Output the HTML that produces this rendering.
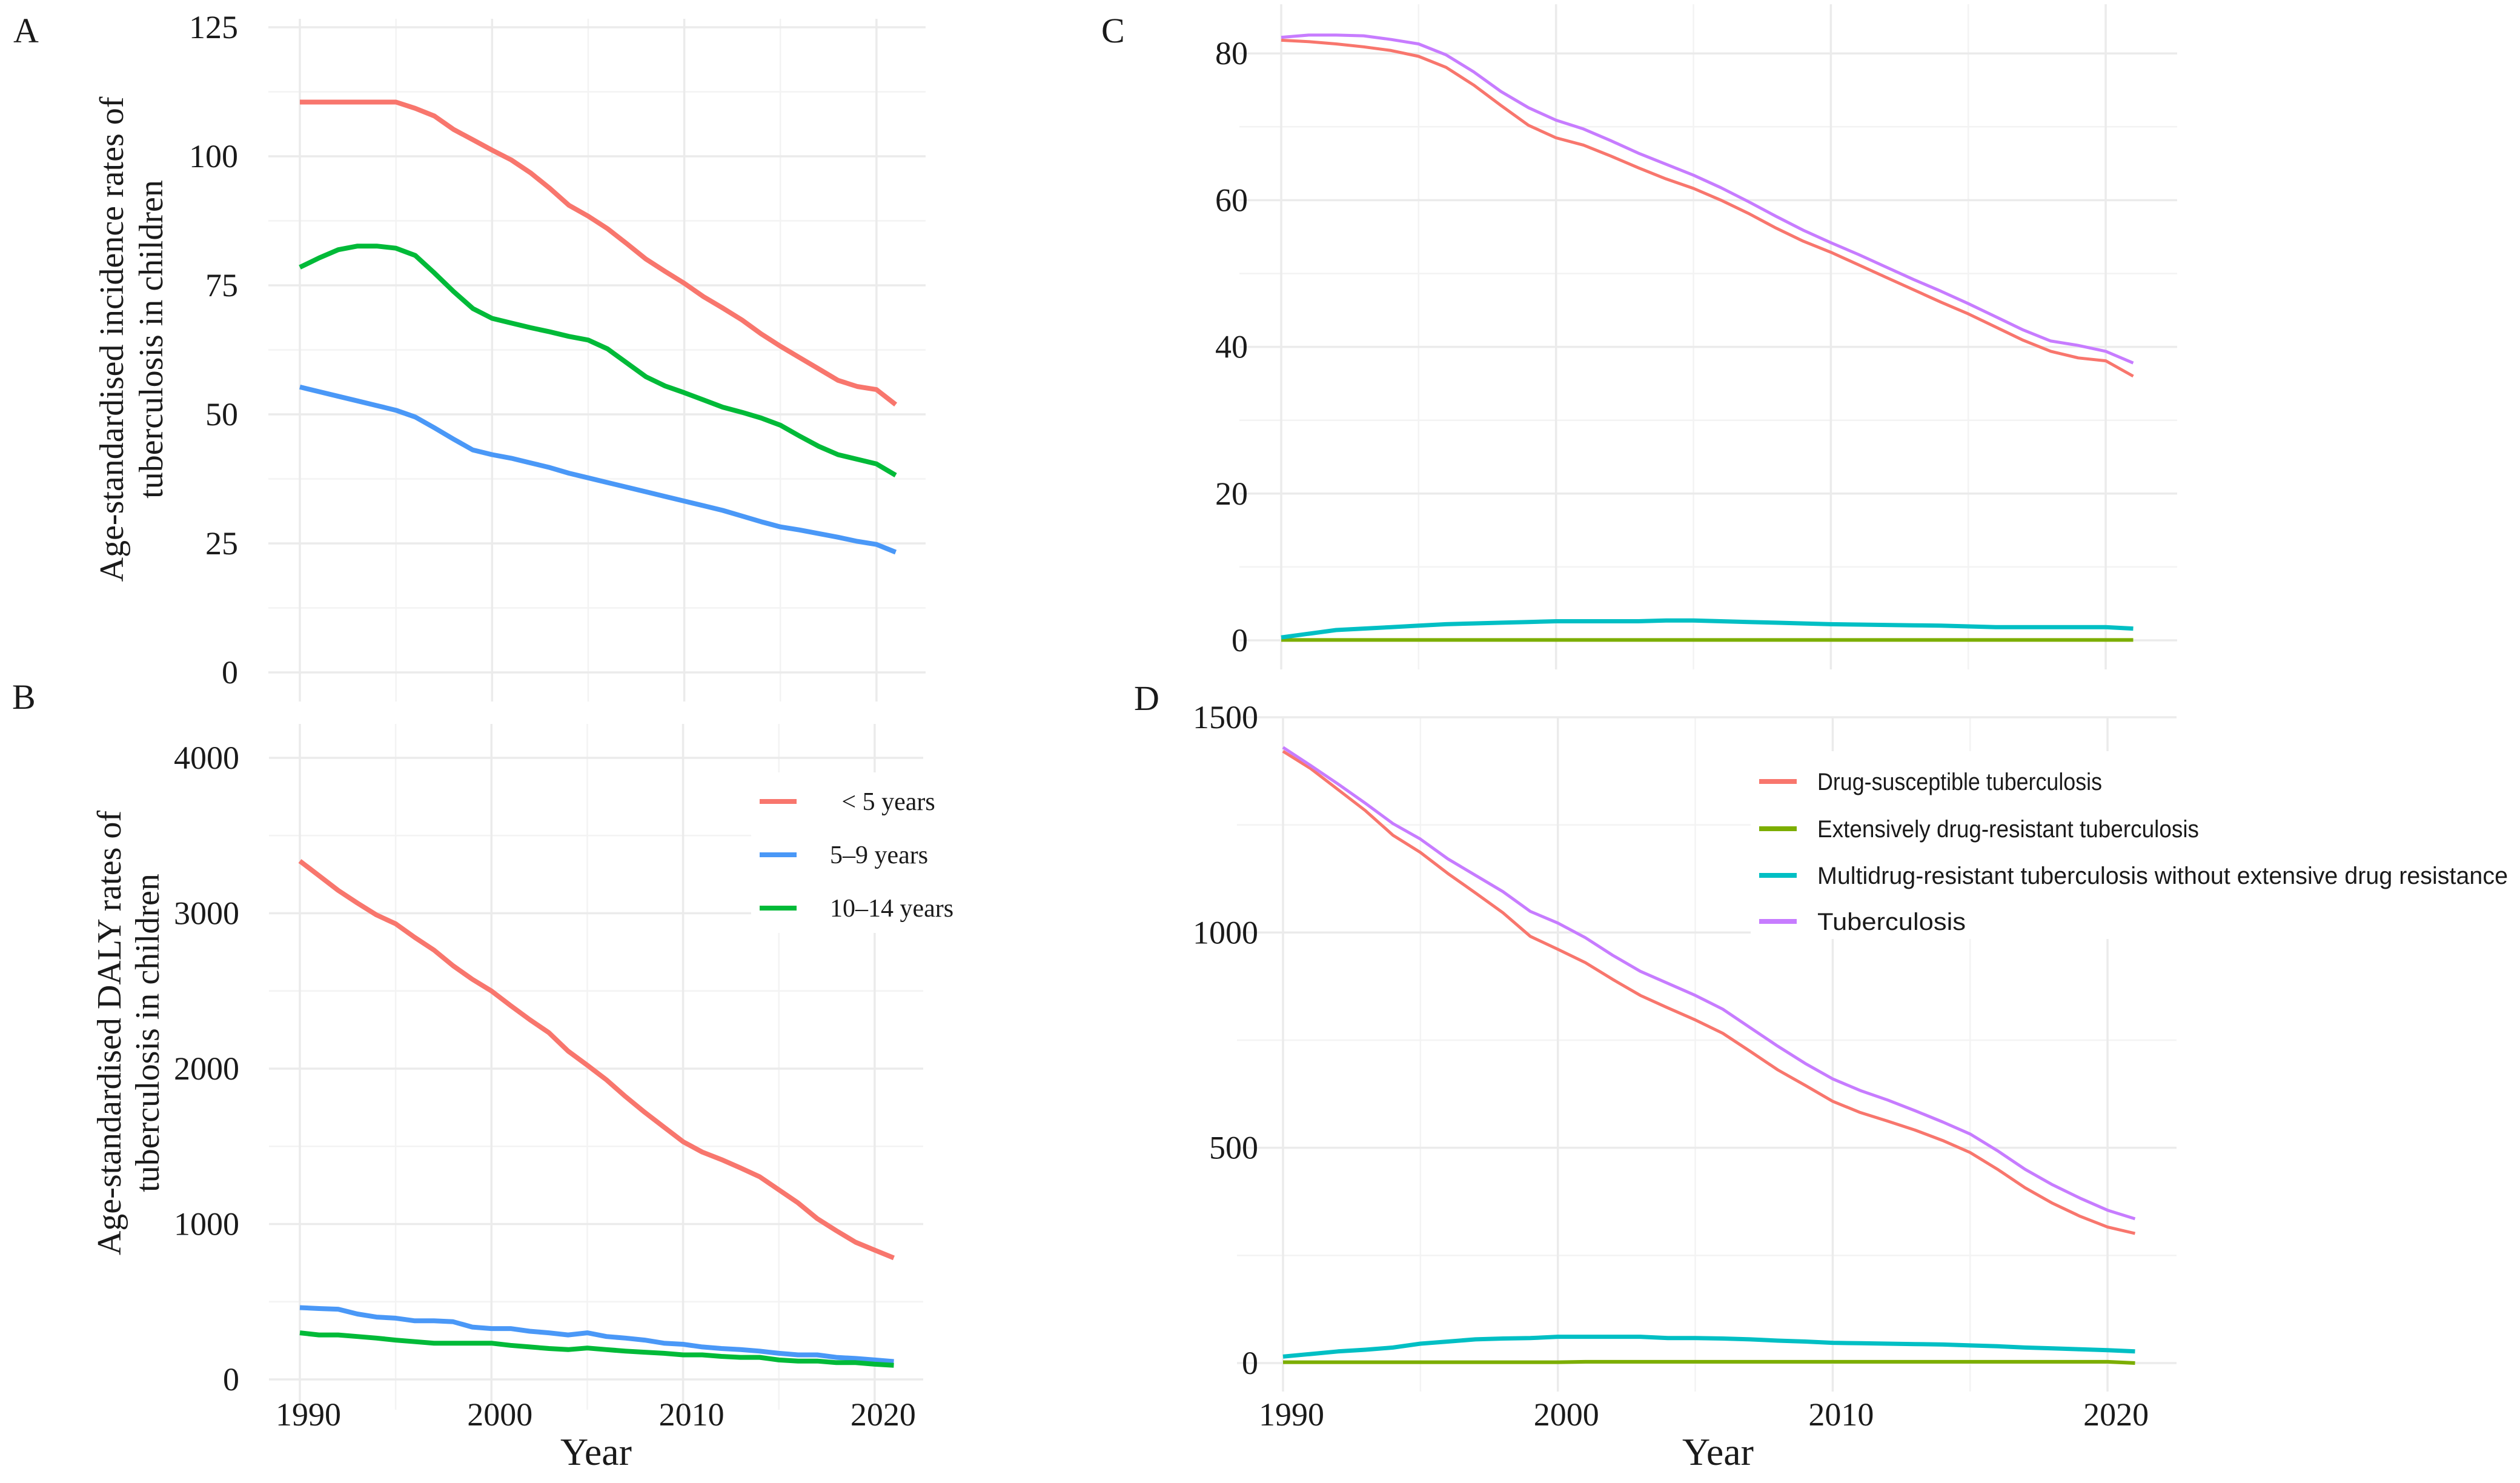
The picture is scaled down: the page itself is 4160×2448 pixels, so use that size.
<!DOCTYPE html>
<html><head><meta charset="utf-8"><style>
html,body{margin:0;padding:0;background:#fff;}
svg{display:block;}
text{font-family:"Liberation Serif",serif;fill:#1a1a1a;}
.sans{font-family:"Liberation Sans",sans-serif;}
</style></head>
<body>
<svg id="chart" width="4160" height="2448" viewBox="0 0 4160 2448" xmlns="http://www.w3.org/2000/svg">
<rect width="4160" height="2448" fill="#fff"/>
<g id="layer"></g>
</svg>
<script>
const years = [1990,1991,1992,1993,1994,1995,1996,1997,1998,1999,2000,2001,2002,2003,2004,2005,2006,2007,2008,2009,2010,2011,2012,2013,2014,2015,2016,2017,2018,2019,2020,2021];
// Panel A: incidence
const aUnder5 = [110.5,110.5,110.5,110.5,110.5,110.5,109.3,107.8,105.2,103.2,101.2,99.3,96.8,93.8,90.5,88.4,86,83.1,80.1,77.7,75.4,72.8,70.6,68.3,65.6,63.2,61,58.8,56.6,55.4,54.8,51.9];
const a5to9 = [55.3,54.4,53.5,52.6,51.7,50.8,49.5,47.4,45.2,43.1,42.2,41.5,40.6,39.7,38.6,37.7,36.8,35.9,35,34.1,33.2,32.3,31.4,30.3,29.2,28.2,27.6,26.9,26.2,25.4,24.8,23.3];
const a10to14 = [78.5,80.3,81.9,82.6,82.6,82.2,80.8,77.4,73.8,70.5,68.6,67.7,66.8,66,65.1,64.4,62.7,60,57.3,55.5,54.2,52.8,51.4,50.4,49.3,47.9,45.8,43.8,42.2,41.3,40.4,38.2];
// Panel B: DALY
const bUnder5 = [3336,3242,3147,3066,2989,2932,2844,2763,2662,2575,2500,2406,2315,2231,2113,2022,1928,1820,1719,1624,1530,1463,1415,1361,1304,1220,1136,1035,957,883,832,782];
const b5to9 = [462,456,452,421,401,394,377,377,371,337,327,327,310,300,286,300,276,266,253,233,226,209,199,192,182,168,158,158,142,135,125,115];
const b10to14 = [300,286,286,276,266,253,243,233,233,233,233,219,209,199,192,202,192,182,175,168,158,158,148,142,142,125,118,118,108,108,98,91];
// Panel C
const cDS = [81.8,81.6,81.3,80.9,80.4,79.6,78.1,75.7,72.9,70.2,68.5,67.5,66,64.4,62.9,61.6,60,58.2,56.2,54.4,52.9,51.2,49.5,47.8,46.1,44.5,42.7,40.9,39.4,38.5,38.1,36.0];
const cXDR = [0.05,0.05,0.05,0.05,0.05,0.05,0.05,0.05,0.05,0.05,0.05,0.05,0.05,0.05,0.05,0.05,0.05,0.05,0.05,0.05,0.05,0.05,0.05,0.05,0.05,0.05,0.05,0.05,0.05,0.05,0.05,0.05];
const cMDR = [0.4,0.9,1.4,1.6,1.8,2.0,2.2,2.3,2.4,2.5,2.6,2.6,2.6,2.6,2.7,2.7,2.6,2.5,2.4,2.3,2.2,2.15,2.1,2.05,2.0,1.9,1.8,1.8,1.8,1.8,1.8,1.6];
const cTB = [82.2,82.5,82.5,82.4,81.9,81.3,79.8,77.5,74.8,72.6,70.9,69.7,68.1,66.4,64.9,63.4,61.7,59.8,57.8,55.9,54.2,52.6,50.9,49.2,47.6,45.9,44.1,42.3,40.8,40.2,39.4,37.8];
// Panel D
const dDS = [1421,1381,1332,1283,1226,1186,1137,1092,1046,991,961,930,891,854,825,797,766,724,681,645,608,582,562,541,517,489,450,407,371,341,316,301];
const dXDR = [2,2,2,2,2,2,2,2,2,2,2,3,3,3,3,3,3,3,3,3,3,3,3,3,3,3,3,3,3,3,3,0];
const dMDR = [15,21,27,31,36,45,50,55,57,58,61,61,61,61,58,58,57,55,52,50,47,46,45,44,43,41,39,36,34,32,30,27];
const dTB = [1430,1388,1345,1300,1253,1217,1171,1133,1095,1049,1022,988,947,910,882,854,822,779,736,696,660,633,611,586,560,532,493,450,414,383,355,335];
// ticks
const aTicks = [0,25,50,75,100,125];
const aMinor = [12.5,37.5,62.5,87.5,112.5];
const bTicks = [0,1000,2000,3000,4000];
const bMinor = [500,1500,2500,3500];
const cTicks = [0,20,40,60,80];
const cMinor = [10,30,50,70];
const dTicks = [0,500,1000,1500];
const dMinor = [250,750,1250];
const xTicks = [1990,2000,2010,2020];
const xMinor = [1995,2005,2015];
const ageLabels = ["\u2009< 5 years","5\u20139 years","10\u201314 years"];
const drugLabels = ["Drug-susceptible tuberculosis","Extensively drug-resistant tuberculosis","Multidrug-resistant tuberculosis without extensive drug resistance","Tuberculosis"];

const NS = "http://www.w3.org/2000/svg";
const layer = document.getElementById('layer');
function mk(tag, attrs, parent){
  const e = document.createElementNS(NS, tag);
  for (const k in attrs) e.setAttribute(k, attrs[k]);
  (parent||layer).appendChild(e);
  return e;
}

function panel(cfg){
  const g = mk('g', {});
  
  
  const xs = y => cfg.x0 + (y - 1990) * cfg.ppy;
  const ys = v => cfg.y0 - v * cfg.ppu;
  cfg.minor.forEach(v => {
    const l = mk('line', {x1:cfg.gx1, x2:cfg.gx2, y1:ys(v), y2:ys(v), stroke:'#f3f3f3', 'stroke-width':2.5}, g);
    
    
  });
  xMinor.forEach(v => {
    const l = mk('line', {x1:xs(v), x2:xs(v), y1:cfg.vy1, y2:cfg.vy2, stroke:'#f3f3f3', 'stroke-width':2.5}, g);
    
    
  });
  cfg.ticks.forEach(v => {
    const l = mk('line', {x1:cfg.gx1, x2:cfg.gx2, y1:ys(v), y2:ys(v), stroke:'#ebebeb', 'stroke-width':3.5}, g);
    
    
    const t = mk('text', {x:cfg.tickRight, y:ys(v)+18, 'text-anchor':'end', 'font-size':cfg.tickFont}, g);
    t.textContent = String(v);
    
    
  });
  xTicks.forEach(v => {
    const l = mk('line', {x1:xs(v), x2:xs(v), y1:cfg.vy1, y2:cfg.vy2, stroke:'#ebebeb', 'stroke-width':3.5}, g);
    
    
    if (cfg.xlabels) {
      const t = mk('text', {x:xs(v)+14, y:2353, 'text-anchor':'middle', 'font-size':cfg.tickFont}, g);
      t.textContent = String(v);
      
      
    }
  });
  if (cfg.legendBox) {
    const r = mk('rect', cfg.legendBox, g);
    r.setAttribute('fill', '#fff');
    
    
  }
  cfg.series.forEach(s => {
    const d = s.values.map((v,i) => (i ? 'L' : 'M') + xs(years[i]).toFixed(1) + ' ' + ys(v).toFixed(1)).join(' ');
    const p = mk('path', {d:d, fill:'none', stroke:s.color, 'stroke-width':s.w, 'stroke-linejoin':'round'}, g);
    
    
  });
  return g;
}

const RED='#F8766D', BLUE='#4A98F7', GREEN='#00BA38', GREEN2='#7CAE00', CYAN='#00BFC4', PURPLE='#C77CFF';

panel({name:'panel-a', x0:495, ppy:31.73, y0:1110, ppu:8.52, gx1:443, gx2:1528, vy1:31, vy2:1158,
  ticks:aTicks, minor:aMinor, tickRight:393, tickFont:54, xlabels:false,
  series:[{name:'line-a-under5',values:aUnder5,color:RED,w:8},{name:'line-a-5to9',values:a5to9,color:BLUE,w:8},{name:'line-a-10to14',values:a10to14,color:GREEN,w:8}]});
panel({name:'panel-b', x0:495, ppy:31.63, y0:2277, ppu:0.2565, gx1:444, gx2:1524, vy1:1195, vy2:2327,
  ticks:bTicks, minor:bMinor, tickRight:395, tickFont:54, xlabels:true,
  legendBox:{x:1240, y:1275, width:360, height:265},
  series:[{name:'line-b-under5',values:bUnder5,color:RED,w:8},{name:'line-b-5to9',values:b5to9,color:BLUE,w:8},{name:'line-b-10to14',values:b10to14,color:GREEN,w:8}]});
panel({name:'panel-c', x0:2115, ppy:45.37, y0:1057, ppu:12.11, gx1:2046, gx2:3594, vy1:7, vy2:1105,
  ticks:cTicks, minor:cMinor, tickRight:2060, tickFont:54, xlabels:false,
  series:[{name:'line-c-drug-susceptible',values:cDS,color:RED,w:5},{name:'line-c-xdr',values:cXDR,color:GREEN2,w:6},{name:'line-c-mdr',values:cMDR,color:CYAN,w:7},{name:'line-c-tuberculosis',values:cTB,color:PURPLE,w:5}]});
panel({name:'panel-d', x0:2118, ppy:45.37, y0:2250, ppu:0.7107, gx1:2042, gx2:3593, vy1:1184, vy2:2297,
  ticks:dTicks, minor:dMinor, tickRight:2077, tickFont:54, xlabels:true,
  legendBox:{x:2890, y:1240, width:1270, height:310},
  series:[{name:'line-d-drug-susceptible',values:dDS,color:RED,w:5},{name:'line-d-xdr',values:dXDR,color:GREEN2,w:6},{name:'line-d-mdr',values:dMDR,color:CYAN,w:7},{name:'line-d-tuberculosis',values:dTB,color:PURPLE,w:5}]});

// Legend B
const bCols=[RED,BLUE,GREEN], bY=[1323,1411,1499];
ageLabels.forEach((lab,i)=>{
  const l = mk('line',{x1:1254,x2:1315,y1:bY[i],y2:bY[i],stroke:bCols[i],'stroke-width':8});
  
  
  const t = mk('text',{x:i===0?1381:1370,y:bY[i]+14,'font-size':42});
  t.textContent = lab;
  
  
});
// Legend D
const dCols=[RED,GREEN2,CYAN,PURPLE], dY=[1290,1368,1445,1521], dLen=[470,630,1140,245];
drugLabels.forEach((lab,i)=>{
  const l = mk('line',{x1:2904,x2:2966,y1:dY[i],y2:dY[i],stroke:dCols[i],'stroke-width':8});
  
  
  const t = mk('text',{x:3000,y:dY[i]+14,'font-size':40,'class':'sans',textLength:dLen[i],lengthAdjust:'spacingAndGlyphs'});
  t.textContent = lab;
  
  
});
</script>
<script>
(function(){
const NS="http://www.w3.org/2000/svg";
const svg=document.getElementById('chart');
function tx(attrs,txt,name){
  const e=document.createElementNS(NS,'text');
  for(const k in attrs)e.setAttribute(k,attrs[k]);
  e.textContent=txt;
  
  
  svg.appendChild(e);
}
tx({x:22,y:70,'font-size':58},'A','panel-label-a');
tx({x:20,y:1170,'font-size':58},'B','panel-label-b');
tx({x:1818,y:70,'font-size':58},'C','panel-label-c');
tx({x:1872,y:1172,'font-size':58},'D','panel-label-d');
tx({x:0,y:0,'font-size':56,'text-anchor':'middle',transform:'translate(203,560) rotate(-90)'},'Age-standardised incidence rates of','y-axis-title-a-line1');
tx({x:0,y:0,'font-size':56,'text-anchor':'middle',transform:'translate(268,560) rotate(-90)'},'tuberculosis in children','y-axis-title-a-line2');
tx({x:0,y:0,'font-size':56,'text-anchor':'middle',transform:'translate(199,1705) rotate(-90)'},'Age-standardised DALY rates of','y-axis-title-b-line1');
tx({x:0,y:0,'font-size':56,'text-anchor':'middle',transform:'translate(262,1705) rotate(-90)'},'tuberculosis in children','y-axis-title-b-line2');
tx({x:984,y:2418,'font-size':64,'text-anchor':'middle'},'Year','x-axis-title-b');
tx({x:2836,y:2418,'font-size':64,'text-anchor':'middle'},'Year','x-axis-title-d');
})();
</script>
</body></html>
